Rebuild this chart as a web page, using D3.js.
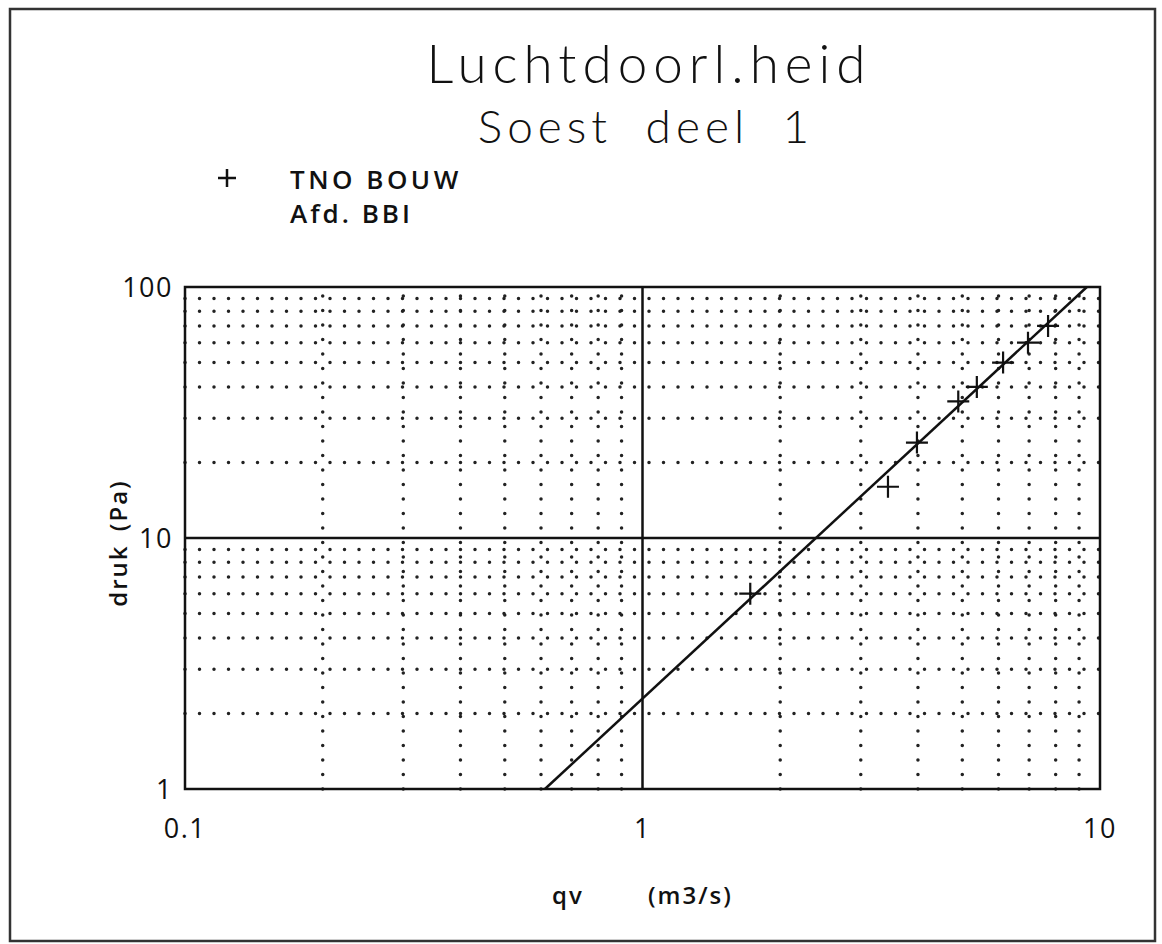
<!DOCTYPE html>
<html>
<head>
<meta charset="utf-8">
<script src="https://cdn.jsdelivr.net/npm/d3@7"></script>
<style>
  body { margin: 0; background: #fff; }
  text { fill: #111; }
  .title { font-family: Lato, "Open Sans", sans-serif; font-weight: 300; }
  .lbl { font-family: "Open Sans", "DejaVu Sans", sans-serif; font-weight: 600; }
</style>
</head>
<body>
<svg id="chart" width="1162" height="944"></svg>
<script>
// measured points (qv in m3/s, druk in Pa)
var qv   = [1.72, 3.44, 3.98, 4.9, 5.38, 6.14, 6.96, 7.7];
var druk = [6, 16, 24, 35, 40, 50, 60, 70];

// fitted line end points
var fitQ = [0.612, 9.36];
var fitP = [1, 100];

var xTicks = [0.1, 1, 10];
var xTickLabels = ["0.1", "1", "10"];
var yTicks = [1, 10, 100];
var yTickLabels = ["1", "10", "100"];
var minorSteps = [2, 3, 4, 5, 6, 7, 8, 9];

var svg = d3.select('#chart');

var plot = {l: 185, r: 1100, t: 287, b: 789};

var xScale = d3.scaleLog()
    .domain([0.1, 10])
    .range([plot.l, plot.r]);

var yScale = d3.scaleLog()
    .domain([1, 100])
    .range([plot.b, plot.t]);

// outer frame
svg.append('rect')
    .attr('x', 10).attr('y', 9)
    .attr('width', 1145).attr('height', 932)
    .attr('fill', 'none')
    .attr('stroke', '#333')
    .attr('stroke-width', 2.5);

// titles
svg.append('text').attr('class', 'title')
    .attr('x', 649).attr('y', 83)
    .attr('text-anchor', 'middle')
    .style('font-size', '53px')
    .style('letter-spacing', '6px')
    .text('Luchtdoorl.heid');

svg.append('text').attr('class', 'title')
    .attr('x', 646).attr('y', 143)
    .attr('text-anchor', 'middle')
    .style('font-size', '46px')
    .style('letter-spacing', '5px')
    .style('word-spacing', '16px')
    .text('Soest deel 1');

// legend
svg.append('path')
    .attr('d', 'M218,178H236M227,169V187')
    .attr('stroke', '#111')
    .attr('stroke-width', 2.5);

svg.append('text').attr('class', 'lbl')
    .attr('x', 290).attr('y', 189)
    .style('font-size', '26px')
    .style('letter-spacing', '3.5px')
    .text('TNO BOUW');

svg.append('text').attr('class', 'lbl')
    .attr('x', 290).attr('y', 223)
    .style('font-size', '26px')
    .style('letter-spacing', '3px')
    .text('Afd. BBI');

// minor grid (dotted)
var minorX = [], minorY = [];
[0.1, 1].forEach(function(d) {
    minorSteps.forEach(function(s) { minorX.push(d * s); });
});
[1, 10].forEach(function(d) {
    minorSteps.forEach(function(s) { minorY.push(d * s); });
});

var grid = svg.append('g')
    .attr('stroke', '#222')
    .attr('stroke-width', 3.5)
    .attr('stroke-linecap', 'round')
    .attr('stroke-dasharray', '0,14.5');

grid.selectAll('.gx')
    .data(minorX)
    .enter().append('line')
    .attr('class', 'gx')
    .attr('x1', function(d) { return xScale(d); })
    .attr('x2', function(d) { return xScale(d); })
    .attr('y1', plot.b)
    .attr('y2', plot.t);

grid.selectAll('.gy')
    .data(minorY)
    .enter().append('line')
    .attr('class', 'gy')
    .attr('y1', function(d) { return yScale(d); })
    .attr('y2', function(d) { return yScale(d); })
    .attr('x1', plot.l)
    .attr('x2', plot.r);

// major grid (solid)
svg.append('line')
    .attr('x1', xScale(1)).attr('x2', xScale(1))
    .attr('y1', plot.t).attr('y2', plot.b)
    .attr('stroke', '#111').attr('stroke-width', 2.5);

svg.append('line')
    .attr('x1', plot.l).attr('x2', plot.r)
    .attr('y1', yScale(10)).attr('y2', yScale(10))
    .attr('stroke', '#111').attr('stroke-width', 2.5);

// plot box
svg.append('rect')
    .attr('x', plot.l).attr('y', plot.t)
    .attr('width', plot.r - plot.l).attr('height', plot.b - plot.t)
    .attr('fill', 'none')
    .attr('stroke', '#111')
    .attr('stroke-width', 2.5);

// tick labels
svg.selectAll('.xt')
    .data(xTicks)
    .enter().append('text')
    .attr('class', 'lbl xt')
    .attr('x', function(d) { return xScale(d); })
    .attr('y', 838)
    .attr('text-anchor', 'middle')
    .style('font-size', '27px')
    .style('font-weight', 400)
    .style('letter-spacing', '1.5px')
    .text(function(d, i) { return xTickLabels[i]; });

svg.selectAll('.yt')
    .data(yTicks)
    .enter().append('text')
    .attr('class', 'lbl yt')
    .attr('x', 173)
    .attr('y', function(d) { return yScale(d) + 10; })
    .attr('text-anchor', 'end')
    .style('font-size', '27px')
    .style('font-weight', 400)
    .style('letter-spacing', '1.5px')
    .text(function(d, i) { return yTickLabels[i]; });

// axis titles
svg.append('text').attr('class', 'lbl')
    .attr('transform', 'translate(127,543) rotate(-90)')
    .attr('text-anchor', 'middle')
    .style('font-size', '24px')
    .style('letter-spacing', '2px')
    .style('word-spacing', '5px')
    .text('druk (Pa)');

svg.append('text').attr('class', 'lbl')
    .attr('x', 552).attr('y', 904)
    .style('font-size', '24px')
    .style('letter-spacing', '2px')
    .text('qv');

svg.append('text').attr('class', 'lbl')
    .attr('x', 648).attr('y', 904)
    .style('font-size', '24px')
    .style('letter-spacing', '2px')
    .text('(m3/s)');

// fit line
svg.append('line')
    .attr('x1', xScale(fitQ[0])).attr('y1', yScale(fitP[0]))
    .attr('x2', xScale(fitQ[1])).attr('y2', yScale(fitP[1]))
    .attr('stroke', '#111')
    .attr('stroke-width', 2.5);

// data points
svg.selectAll('.pt')
    .data(qv)
    .enter().append('path')
    .attr('class', 'pt')
    .attr('transform', function(d, i) {
        return 'translate(' + xScale(d) + ',' + yScale(druk[i]) + ')';
    })
    .attr('d', 'M-11,0H11M0,-11V11')
    .attr('stroke', '#111')
    .attr('stroke-width', 2.2);
</script>
</body>
</html>
